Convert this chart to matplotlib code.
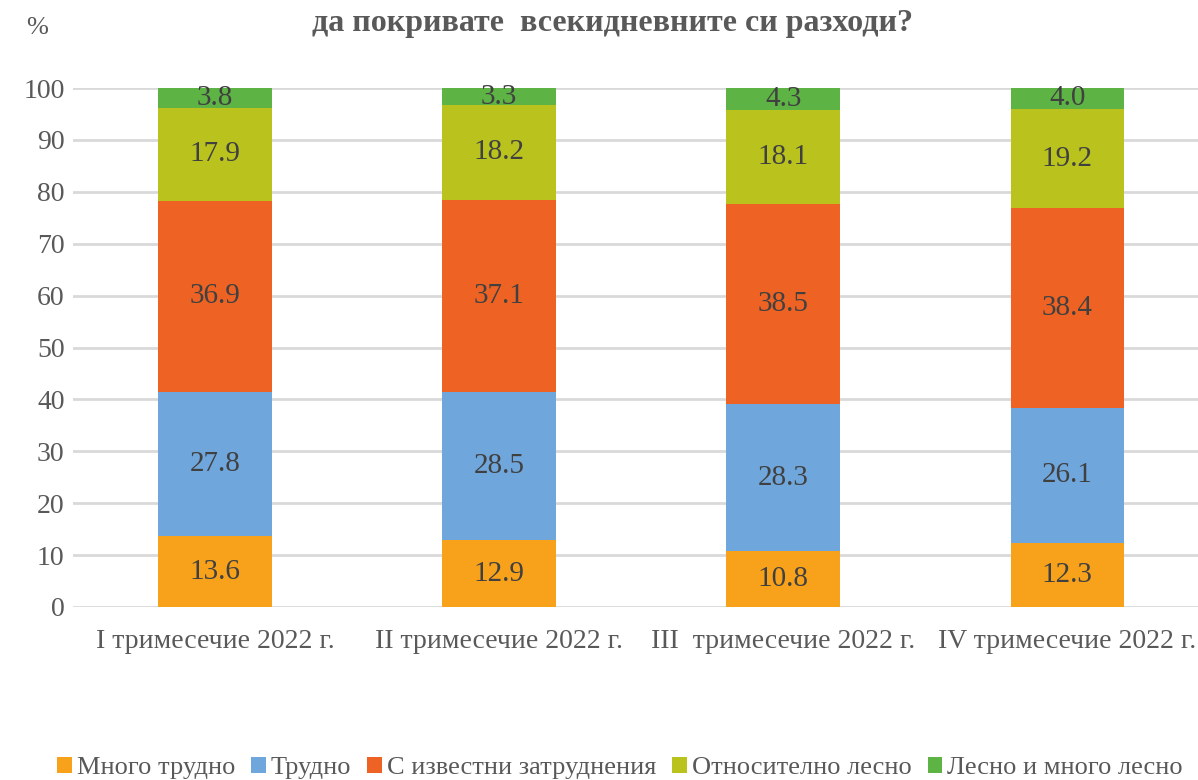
import matplotlib.pyplot as plt
import numpy as np

categories = ["I тримесечие 2022 г.", "II тримесечие 2022 г.",
              "III  тримесечие 2022 г.", "IV тримесечие 2022 г."]
series_names = ["Много трудно", "Трудно", "С известни затруднения",
                "Относително лесно", "Лесно и много лесно"]
very_hard = [13.6, 12.9, 10.8, 12.3]
hard = [27.8, 28.5, 28.3, 26.1]
some_diff = [36.9, 37.1, 38.5, 38.4]
rel_easy = [17.9, 18.2, 18.1, 19.2]
easy = [3.8, 3.3, 4.3, 4.0]

colors = ["#F8A21C", "#6FA7DD", "#EE6323", "#BAC21E", "#5EB345"]

plt.rcParams['font.family'] = ['Liberation Serif', 'DejaVu Serif']

fig = plt.figure(figsize=(11.98, 7.8), dpi=100)
ax = fig.add_axes([73 / 1198, 1 - 607 / 780, 1 - 73 / 1198, (607 - 88) / 780])

x = np.arange(len(categories))
bottom = np.zeros(len(categories))
for name, vals, col in zip(series_names, [very_hard, hard, some_diff, rel_easy, easy], colors):
    vals = np.array(vals)
    ax.bar(x, vals, width=0.4, bottom=bottom, color=col, label=name, zorder=3)
    for xi, b, v in zip(x, bottom, vals):
        ax.text(xi, b + v / 2, f"{v:.1f}", ha='center', va='center',
                fontsize=21, color='#404040', zorder=4)
    bottom += vals

ax.set_ylim(0, 100)
ax.set_xlim(-0.5, 3.46)
ax.set_yticks(range(0, 101, 10))
ax.set_xticks(x)
ax.set_xticklabels(categories)
ax.tick_params(axis='both', length=0, labelsize=20, colors='#595959')
ax.tick_params(axis='x', pad=16)
ax.tick_params(axis='y', pad=6)
ax.grid(axis='y', color='#D9D9D9', linewidth=2, zorder=0)
for s in ax.spines.values():
    s.set_visible(False)

fig.text(37 / 1198, 1 - 28 / 780, "%", ha='center', va='center',
         fontsize=19, color='#595959')
fig.text(613 / 1198, 1 - 24 / 780, "да покривате  всекидневните си разходи?",
         ha='center', va='center', fontsize=23, fontweight='bold', color='#595959')

leg = fig.legend(loc='center', bbox_to_anchor=(620 / 1198, 1 - 768 / 780), ncol=5,
                 frameon=False, fontsize=19, handlelength=0.55, handleheight=0.55,
                 handletextpad=0.2, columnspacing=0.6)
for t in leg.get_texts():
    t.set_color('#595959')

fig.savefig("out.png", dpi=100)
